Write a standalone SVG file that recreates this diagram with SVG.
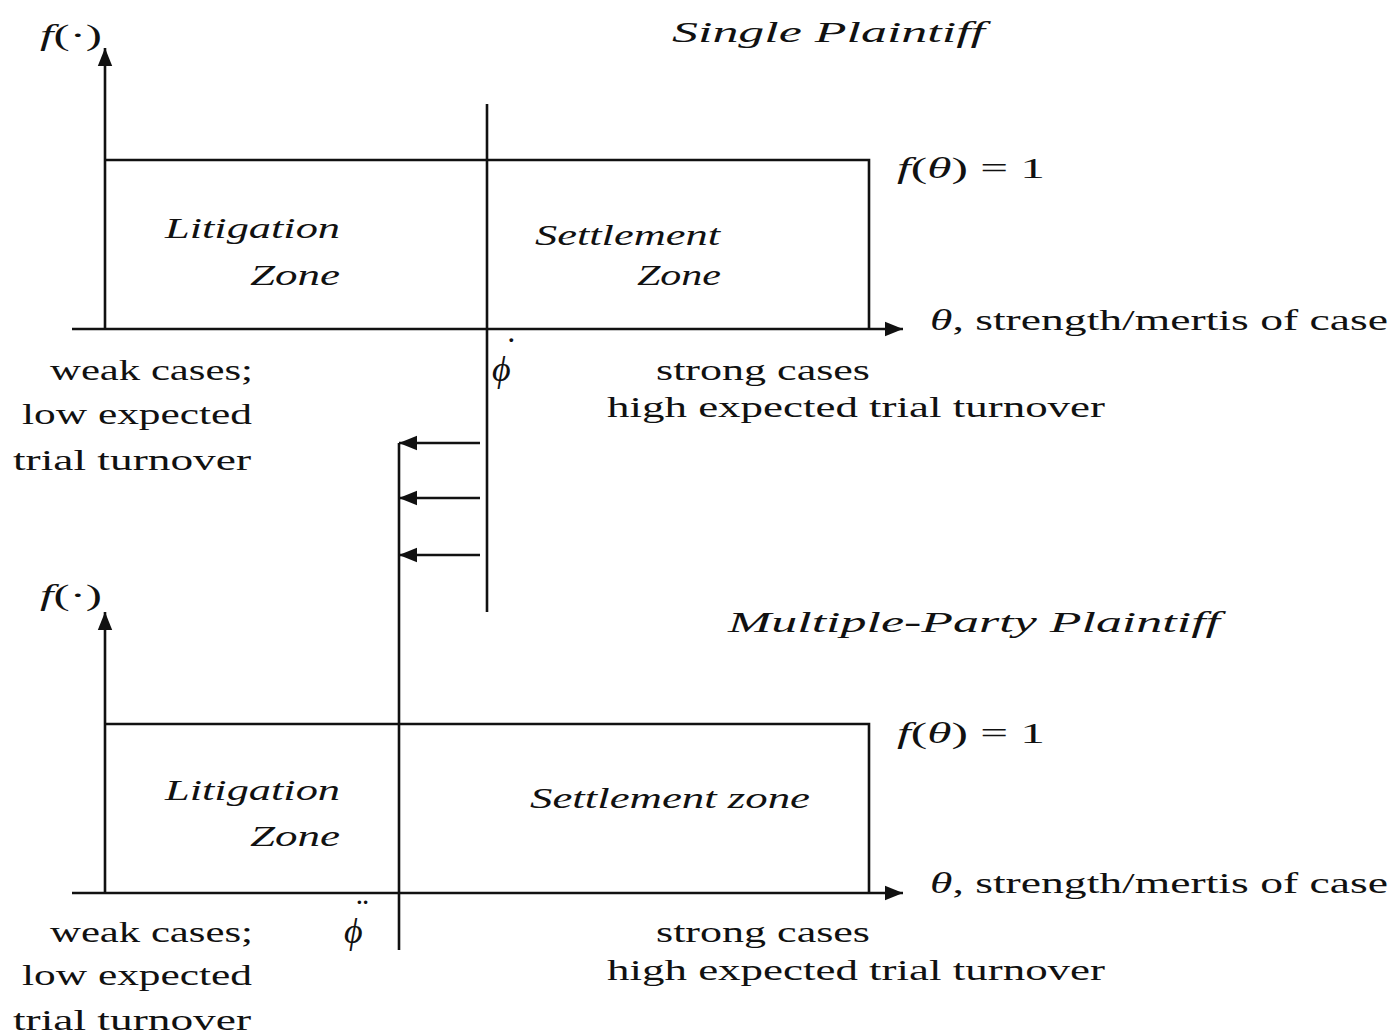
<svg xmlns="http://www.w3.org/2000/svg" width="1395" height="1036" viewBox="0 0 1395 1036">
<style>
text{font-family:"Liberation Serif","DejaVu Serif",serif;font-size:30px;fill:#111}
.it{font-style:italic}
.phi{font-size:36px}
.ln{stroke:#111;stroke-width:2.6;fill:none}
</style>
<defs>
<marker id="ah2" viewBox="0 0 10 10" refX="10" refY="5" markerWidth="7" markerHeight="7" orient="auto" markerUnits="strokeWidth">
<path d="M0,1 L10,5 L0,9 Z" fill="#111"/>
</marker>
</defs>
<rect width="1395" height="1036" fill="#fff"/>

<g id="connectors">
<!-- top panel axes -->
<line class="ln" x1="105" y1="329" x2="105" y2="48" marker-end="url(#ah2)"/>
<line class="ln" x1="72" y1="329" x2="903" y2="329" marker-end="url(#ah2)"/>
<polyline class="ln" points="105,160 869,160 869,329"/>
<line class="ln" x1="487" y1="104" x2="487" y2="612"/>
<!-- shift arrows -->
<line class="ln" x1="399" y1="443" x2="399" y2="950"/>
<line class="ln" x1="480" y1="443" x2="399" y2="443" marker-end="url(#ah2)"/>
<line class="ln" x1="480" y1="498" x2="399" y2="498" marker-end="url(#ah2)"/>
<line class="ln" x1="480" y1="555" x2="399" y2="555" marker-end="url(#ah2)"/>
<!-- bottom panel axes -->
<line class="ln" x1="105" y1="893" x2="105" y2="612" marker-end="url(#ah2)"/>
<line class="ln" x1="72" y1="893" x2="903" y2="893" marker-end="url(#ah2)"/>
<polyline class="ln" points="105,724 869,724 869,893"/>
</g>

<g id="top-panel">
<text x="40" y="45" textLength="62" lengthAdjust="spacingAndGlyphs"><tspan class="it">f</tspan>(·)</text>
<text class="it" x="672" y="42" textLength="313" lengthAdjust="spacingAndGlyphs">Single Plaintiff</text>
<text x="897" y="178" textLength="148" lengthAdjust="spacingAndGlyphs"><tspan class="it">f</tspan>(<tspan class="it">θ</tspan>) = 1</text>
<text x="930" y="330" textLength="458" lengthAdjust="spacingAndGlyphs"><tspan class="it">θ</tspan>, strength/mertis of case</text>
<text class="it" x="165" y="238" textLength="175" lengthAdjust="spacingAndGlyphs">Litigation</text>
<text class="it" x="250" y="285" textLength="90" lengthAdjust="spacingAndGlyphs">Zone</text>
<text class="it" x="535" y="245" textLength="185" lengthAdjust="spacingAndGlyphs">Settlement</text>
<text class="it" x="637" y="285" textLength="84" lengthAdjust="spacingAndGlyphs">Zone</text>
<text x="50" y="380" textLength="203" lengthAdjust="spacingAndGlyphs">weak cases;</text>
<text x="22" y="424" textLength="230" lengthAdjust="spacingAndGlyphs">low expected</text>
<text x="13" y="470" textLength="238" lengthAdjust="spacingAndGlyphs">trial turnover</text>
<text class="it phi" x="492" y="381">ϕ<tspan x="503" y="362">˙</tspan></text>
<text x="656" y="380" textLength="214" lengthAdjust="spacingAndGlyphs">strong cases</text>
<text x="607" y="417" textLength="498" lengthAdjust="spacingAndGlyphs">high expected trial turnover</text>
</g>

<g id="bottom-panel">
<text x="40" y="605" textLength="62" lengthAdjust="spacingAndGlyphs"><tspan class="it">f</tspan>(·)</text>
<text class="it" x="728" y="632" textLength="492" lengthAdjust="spacingAndGlyphs">Multiple-Party Plaintiff</text>
<text x="897" y="743" textLength="148" lengthAdjust="spacingAndGlyphs"><tspan class="it">f</tspan>(<tspan class="it">θ</tspan>) = 1</text>
<text x="930" y="893" textLength="458" lengthAdjust="spacingAndGlyphs"><tspan class="it">θ</tspan>, strength/mertis of case</text>
<text class="it" x="165" y="800" textLength="175" lengthAdjust="spacingAndGlyphs">Litigation</text>
<text class="it" x="250" y="846" textLength="90" lengthAdjust="spacingAndGlyphs">Zone</text>
<text class="it" x="530" y="808" textLength="280" lengthAdjust="spacingAndGlyphs">Settlement zone</text>
<text x="50" y="942" textLength="203" lengthAdjust="spacingAndGlyphs">weak cases;</text>
<text x="22" y="985" textLength="230" lengthAdjust="spacingAndGlyphs">low expected</text>
<text x="13" y="1030" textLength="238" lengthAdjust="spacingAndGlyphs">trial turnover</text>
<text class="it phi" x="344" y="943">ϕ<tspan x="354" y="924">¨</tspan></text>
<text x="656" y="942" textLength="214" lengthAdjust="spacingAndGlyphs">strong cases</text>
<text x="607" y="980" textLength="498" lengthAdjust="spacingAndGlyphs">high expected trial turnover</text>
</g>
</svg>
